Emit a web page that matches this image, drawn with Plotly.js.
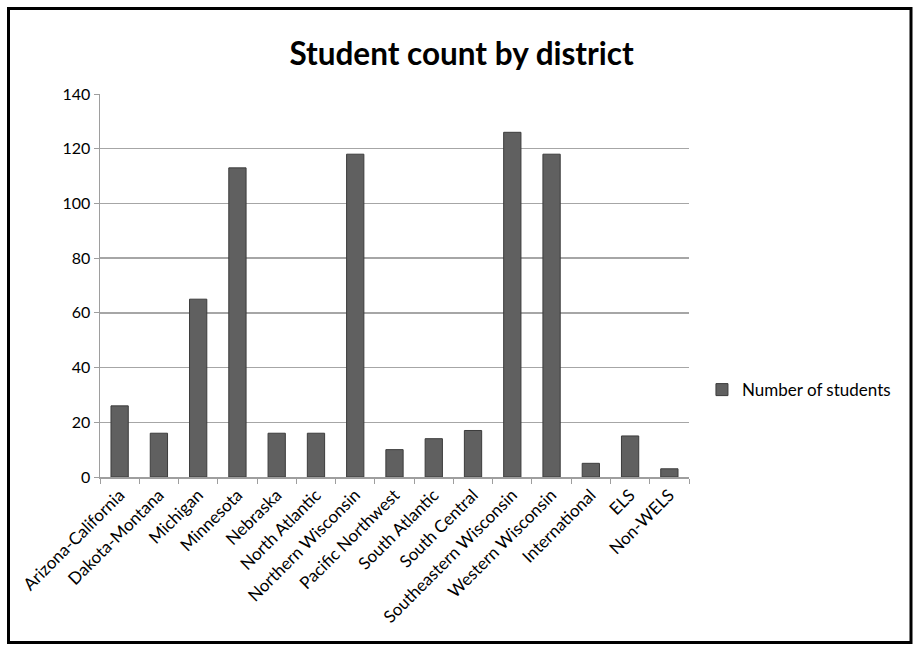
<!DOCTYPE html>
<html>
<head>
<meta charset="utf-8">
<script src="https://cdn.plot.ly/plotly-3.0.1.min.js"></script>
<style>
  html, body { margin: 0; padding: 0; background: #ffffff; }
  #chart { width: 914px; height: 646px; }
</style>
</head>
<body>
<div id="chart"></div>
<script>
const districts = [
  "Arizona-California", "Dakota-Montana", "Michigan", "Minnesota", "Nebraska",
  "North Atlantic", "Northern Wisconsin", "Pacific Northwest", "South Atlantic",
  "South Central", "Southeastern Wisconsin", "Western Wisconsin", "International",
  "ELS", "Non-WELS"
];
const students = [26, 16, 65, 113, 16, 16, 118, 10, 14, 17, 126, 118, 5, 15, 3];
const yTicks = [0, 20, 40, 60, 80, 100, 120, 140];
const seriesName = "Number of students";
const chartTitle = "Student count by district";

const FONT = "Lato, 'Open Sans', 'DejaVu Sans', sans-serif";

const trace = {
  type: "bar",
  x: districts,
  y: students,
  name: seriesName,
  showlegend: true,
  marker: {
    color: "#606060",
    line: { color: "#3c3c3c", width: 1 }
  },
  hoverinfo: "x+y"
};

const layout = {
  width: 914,
  height: 646,
  margin: { l: 100, r: 225, t: 94, b: 169, pad: 0 },
  paper_bgcolor: "#ffffff",
  plot_bgcolor: "#ffffff",
  font: { family: FONT, color: "#000000", size: 16 },
  title: {
    text: "<b>" + chartTitle + "</b>",
    font: { family: FONT, size: 31.5, color: "#000000" },
    xref: "container", x: 0.505, xanchor: "center",
    yref: "container", y: 0.916, yanchor: "middle"
  },
  bargap: 0.56,
  xaxis: {
    type: "category",
    tickangle: -45,
    tickson: "boundaries",
    ticks: "outside",
    ticklen: 5,
    tickcolor: "#9e9e9e",
    tickwidth: 1,
    showgrid: false,
    showline: true,
    linecolor: "#9e9e9e",
    linewidth: 1.5,
    tickfont: { family: FONT, size: 17, color: "#000000" },
    automargin: false
  },
  yaxis: {
    range: [0, 140],
    tickvals: yTicks,
    ticktext: yTicks.map(String),
    ticks: "outside",
    ticklen: 5,
    tickcolor: "#9e9e9e",
    showgrid: true,
    gridcolor: "#a6a6a6",
    gridwidth: 1.5,
    showline: true,
    linecolor: "#9e9e9e",
    linewidth: 1.5,
    zeroline: false,
    tickfont: { family: FONT, size: 16, color: "#000000" },
    automargin: false
  },
  showlegend: true,
  legend: {
    x: 1.022, xanchor: "left",
    y: 0.227, yanchor: "middle",
    font: { family: FONT, size: 17, color: "#000000" },
    bgcolor: "rgba(0,0,0,0)",
    itemwidth: 30
  },
  shapes: [{
    type: "rect",
    xref: "paper", yref: "paper",
    x0: (8.5 - 100) / 589, x1: (911 - 100) / 589,
    y0: (477 - 642.5) / 383, y1: (477 - 8.5) / 383,
    line: { color: "#000000", width: 3 },
    fillcolor: "rgba(0,0,0,0)",
    layer: "above"
  }]
};

Plotly.newPlot("chart", [trace], layout, { displayModeBar: false, staticPlot: true });
</script>
</body>
</html>
